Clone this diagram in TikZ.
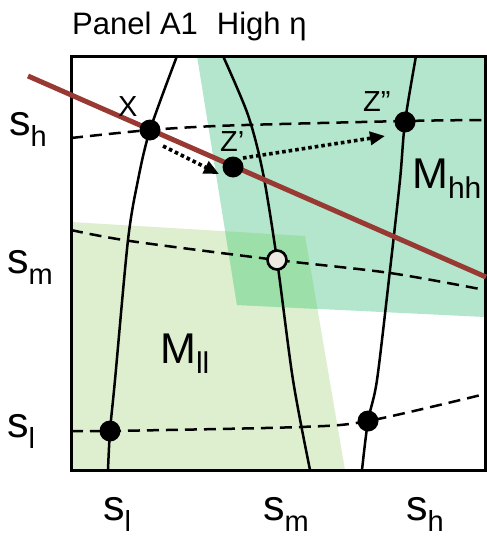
\documentclass[tikz,border=0pt]{standalone}
\usepackage{fontspec}
\setmainfont{Liberation Sans}
\usetikzlibrary{arrows.meta}
\definecolor{mhh}{HTML}{B3E6CC}
\definecolor{mll}{HTML}{DDEFCE}
\definecolor{mov}{HTML}{9DDFA9}
\definecolor{redl}{HTML}{983A33}
\definecolor{opn}{HTML}{ECE9E0}
\newcommand{\slab}[2]{{\fontsize{43}{43}\selectfont #1}\raisebox{-11pt}{\fontsize{29}{29}\selectfont #2}}
\newcommand{\mlab}[2]{{\fontsize{43}{43}\selectfont #1}\raisebox{-10pt}{\fontsize{30}{30}\selectfont #2}}
\begin{document}
\begin{tikzpicture}[x=1pt,y=-1pt,
  dot/.style={circle,fill=black,minimum size=21pt,inner sep=0pt},
  opendot/.style={circle,draw=black,line width=2.6pt,fill=opn,minimum size=19pt,inner sep=0pt},
  txt/.style={anchor=base west,inner sep=0pt},
  ptlab/.style={anchor=base west,inner sep=0pt,font=\fontsize{29}{29}\selectfont},
  solidcurve/.style={line width=2.5pt,black},
  dashcurve/.style={line width=2.5pt,black,dash pattern=on 12pt off 7pt},
  dotarrow/.style={line width=3.6pt,black,dash pattern=on 3.6pt off 3pt,-{Triangle[length=15pt,width=13pt]}},
  budget/.style={line width=5pt,redl}]
\useasboundingbox (0,0) rectangle (487,538);
% regions
\fill[mll] (71,222) -- (305,236) -- (345,470) -- (71,470) -- cycle;
\fill[mhh] (197,56) -- (485,56) -- (485,317) -- (237,305) -- cycle;
\begin{scope}
  \clip (71,222) -- (305,236) -- (345,470) -- (71,470) -- cycle;
  \fill[mov] (197,56) -- (485,56) -- (485,317) -- (237,305) -- cycle;
\end{scope}
% dashed curves
\draw[dashcurve] plot[smooth] coordinates {(71,138) (150,130) (230,125.5) (405,121) (485,120)};
\draw[dashcurve] plot[smooth] coordinates {(71,230) (130,241) (277,260) (390,273) (485,290)};
\draw[dashcurve] plot[smooth] coordinates {(71,431) (110,431) (300,427) (368,421) (485,394)};
% solid curves
\draw[solidcurve] plot[smooth] coordinates {(177,56) (150,130) (138,180) (128,240) (115,380) (110,431) (108,470)};
\draw[solidcurve] plot[smooth] coordinates {(223,56) (248,115) (263,173) (277,260) (293,380) (310,470)};
\draw[solidcurve] plot[smooth] coordinates {(416,56) (405,122) (400,180) (390,270) (377,380) (368,421) (362,470)};
% frame
\draw[line width=3pt] (71,56) rectangle (485,470);
% budget line
\coordinate (r1) at (28,76);
\coordinate (r2) at (486,277);
\draw[budget] (r1) -- (r2);
% points
\node[dot] (X) at (150,130) {};
\node[dot] (Z1) at (233,167) {};
\node[dot] (Z2) at (405,122) {};
\node[dot] (LL) at (110,431) {};
\node[dot] (HL) at (368,421) {};
\node[opendot] (MM) at (277,260) {};
% arrows
\coordinate (a1s) at (163,146);
\coordinate (a1e) at (219,174);
\coordinate (a2s) at (243,158);
\coordinate (a2e) at (385,136);
\draw[dotarrow] (a1s) -- (a1e);
\draw[dotarrow] (a2s) -- (a2e);
% point labels
\node[ptlab] (lx) at (118,116) {X};
\node[ptlab] (lz1) at (220,151) {Z’};
\node[ptlab] (lz2) at (363,111) {Z”};
% region labels
\node[txt] (lmhh) at (412,188) {\mlab{M}{hh}};
\node[txt] (lmll) at (160,363) {\mlab{M}{ll}};
% axis labels
\node[txt] (ysh) at (9,135) {\slab{s}{h}};
\node[txt] (ysm) at (7,273) {\slab{s}{m}};
\node[txt] (ysl) at (7,437) {\slab{s}{l}};
\node[txt] (xsl) at (103,520) {\slab{s}{l}};
\node[txt] (xsm) at (263,520) {\slab{s}{m}};
\node[txt] (xsh) at (406,520) {\slab{s}{h}};
% title
\node[txt,font=\fontsize{31}{31}\selectfont] (title) at (72,34) {Panel A1\hspace{19pt}High η};
\end{tikzpicture}
\end{document}
